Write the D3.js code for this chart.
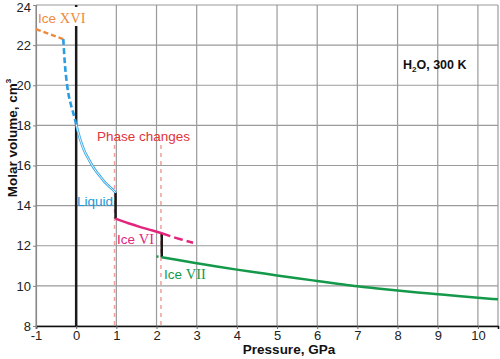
<!DOCTYPE html>
<html><head><meta charset="utf-8">
<script src="https://cdn.jsdelivr.net/npm/d3@7"></script>
<style>body{margin:0;background:#fff}svg{display:block;font-family:"Liberation Sans",Arial,sans-serif}</style>
</head><body><svg id="c" width="500" height="359"></svg>
<script>
const xTicks = [-1,0,1,2,3,4,5,6,7,8,9,10];
const yTicks = [8,10,12,14,16,18,20,22,24];
const iceXVI_P = [-1, -0.32];
const iceXVI_V = [22.8, 22.3];
const liqMeta_P = [-0.32, -0.29, -0.26, -0.2, -0.14, -0.07, 0];
const liqMeta_V = [22.3, 21.3, 20.6, 19.65, 19.1, 18.6, 18.05];
const liq_P = [0, 0.1, 0.2, 0.3, 0.4, 0.5, 0.6, 0.7, 0.8, 0.9, 0.98];
const liq_V = [18.05, 17.3, 16.75, 16.35, 16.0, 15.7, 15.45, 15.2, 15.0, 14.82, 14.65];
const iceVI_P = [0.98, 1.3, 1.6, 1.9, 2.13];
const iceVI_V = [13.35, 13.12, 12.93, 12.76, 12.62];
const iceVImeta_P = [2.13, 2.5, 2.91];
const iceVImeta_V = [12.62, 12.38, 12.15];
const iceVIImeta_P = [2.0, 2.13];
const iceVIImeta_V = [11.47, 11.43];
const iceVII_P = [2.13,2.5,3,3.5,4,4.5,5,5.5,6,6.5,7,7.5,8,8.5,9,9.5,10,10.5];
const iceVII_V = [11.43,11.30,11.13,10.965,10.81,10.665,10.52,10.38,10.245,10.11,9.98,9.87,9.77,9.675,9.585,9.495,9.41,9.33];
const steps_P = [0, 0.98, 2.13];
const steps_V0 = [8, 14.65, 12.62];
const steps_V1 = [24, 13.35, 11.43];
const phaseP = [0.955, 2.11];

const svg = d3.select("#c");
const x = d3.scaleLinear().domain([-1,10.5]).range([36,498]);
const y = d3.scaleLinear().domain([8,24]).range([326,5]);
const zip = (a,b)=>a.map((v,i)=>[v,b[i]]);
const line = d3.line().x(d=>x(d[0])).y(d=>y(d[1])).curve(d3.curveMonotoneX);

// grid
const g = svg.append("g");
g.selectAll("line.vx").data(xTicks.concat([10.5])).join("line")
 .attr("x1",d=>x(d)).attr("x2",d=>x(d)).attr("y1",y(24)).attr("y2",y(8))
 .attr("stroke","#9a9a9a").attr("stroke-width",1.2);
g.selectAll("line.hy").data(yTicks).join("line")
 .attr("x1",x(-1)).attr("x2",x(10.5)).attr("y1",d=>y(d)).attr("y2",d=>y(d))
 .attr("stroke","#9a9a9a").attr("stroke-width",1.2);

// axes
const xa = svg.append("g").attr("transform",`translate(0,${y(8)})`)
 .call(d3.axisBottom(x).tickValues(xTicks).tickSize(3).tickFormat(d=>String(d)));
xa.select(".domain").attr("stroke","#111").attr("stroke-width",1.6);
xa.selectAll(".tick line").attr("stroke","#666");
xa.selectAll("text").attr("font-size",13).attr("fill","#222").attr("dy","0.72em").attr("y",5)
 .attr("font-family","Liberation Sans, Arial, sans-serif");
const ya = svg.append("g").attr("transform",`translate(${x(-1)},0)`)
 .call(d3.axisLeft(y).tickValues(yTicks).tickSize(3).tickFormat(d=>String(d)));
ya.select(".domain").attr("stroke","#888").attr("stroke-width",1.2);
ya.selectAll(".tick line").attr("stroke","#888");
ya.selectAll("text").attr("font-size",13).attr("fill","#222").attr("x",-5)
 .attr("font-family","Liberation Sans, Arial, sans-serif");
ya.selectAll(".tick").filter(d=>d===24).select("text").attr("dy","0.5em");

// phase change dashed lines
svg.selectAll("line.ph").data(phaseP).join("line")
 .attr("x1",d=>x(d)).attr("x2",d=>x(d)).attr("y1",145).attr("y2",y(8))
 .attr("stroke","#f0a0a0").attr("stroke-width",1.5).attr("stroke-dasharray","4,4");

// black step lines
svg.selectAll("line.st").data(steps_P).join("line")
 .attr("x1",d=>x(d)).attr("x2",d=>x(d))
 .attr("y1",(d,i)=>y(steps_V0[i])).attr("y2",(d,i)=>y(steps_V1[i]))
 .attr("stroke","#1a1a1a").attr("stroke-width",2.5);

// Ice XVI
svg.append("path").attr("d",line(zip(iceXVI_P,iceXVI_V))).attr("fill","none")
 .attr("stroke","#ee8a3c").attr("stroke-width",2.5).attr("stroke-dasharray","5,3");
// metastable liquid
svg.append("path").attr("d",d3.line().x(d=>x(d[0])).y(d=>y(d[1])).curve(d3.curveCatmullRom)(zip(liqMeta_P,liqMeta_V))).attr("fill","none")
 .attr("stroke","#2a9de2").attr("stroke-width",2.6).attr("stroke-dasharray","6,3");
// liquid (double line)
const lp = line(zip(liq_P,liq_V));
svg.append("path").attr("d",lp).attr("fill","none").attr("stroke","#3aa8e8").attr("stroke-width",2.6);
svg.append("path").attr("d",lp).attr("fill","none").attr("stroke","#ffffff").attr("stroke-width",0.9);
// Ice VI
svg.append("path").attr("d",line(zip(iceVI_P,iceVI_V))).attr("fill","none")
 .attr("stroke","#e2267d").attr("stroke-width",2.5);
svg.append("path").attr("d",line(zip(iceVImeta_P,iceVImeta_V))).attr("fill","none")
 .attr("stroke","#e2267d").attr("stroke-width",2.5).attr("stroke-dasharray","9,4");
// Ice VII
svg.append("path").attr("d",line(zip(iceVIImeta_P,iceVIImeta_V))).attr("fill","none")
 .attr("stroke","#14994a").attr("stroke-width",2.5).attr("stroke-dasharray","2,3");
svg.append("path").attr("d",line(zip(iceVII_P,iceVII_V))).attr("fill","none")
 .attr("stroke","#14994a").attr("stroke-width",2.5);

// labels
svg.append("rect").attr("x",37).attr("y",7).attr("width",50).attr("height",19).attr("fill","#fff");
function iceLabel(px, py, num, color){
  const t = svg.append("text").attr("x",px).attr("y",py).attr("fill",color).attr("font-size",13.5);
  t.append("tspan").text("Ice ");
  t.append("tspan").attr("font-family","Liberation Serif, Times New Roman, serif").attr("font-size",14.5).text(num);
}
iceLabel(38, 23, "XVI", "#ee8a3c");
iceLabel(117, 244, "VI", "#e2267d");
iceLabel(164, 279, "VII", "#14994a");
svg.append("text").attr("x",77).attr("y",206).attr("fill","#1a9ad8").attr("font-size",13.5).text("Liquid");
svg.append("text").attr("x",97).attr("y",141).attr("fill","#e0353a").attr("font-size",13.5).text("Phase changes");

const h = svg.append("text").attr("x",403).attr("y",69).attr("font-weight","bold").attr("font-size",12.5).attr("fill","#111");
h.append("tspan").text("H");
h.append("tspan").attr("font-size",8).attr("dy",3).text("2");
h.append("tspan").attr("dy",-3).text("O, 300 K");

svg.append("text").attr("x",289).attr("y",354).attr("text-anchor","middle").attr("font-weight","bold")
 .attr("font-size",13.5).attr("fill","#111").text("Pressure, GPa");
const yl = svg.append("text").attr("transform","translate(17,138) rotate(-90)").attr("text-anchor","middle")
 .attr("font-weight","bold").attr("font-size",13.5).attr("fill","#111");
yl.append("tspan").text("Molar volume, cm");
yl.append("tspan").attr("font-size",8).attr("dy",-6).text("3");
</script></body></html>
